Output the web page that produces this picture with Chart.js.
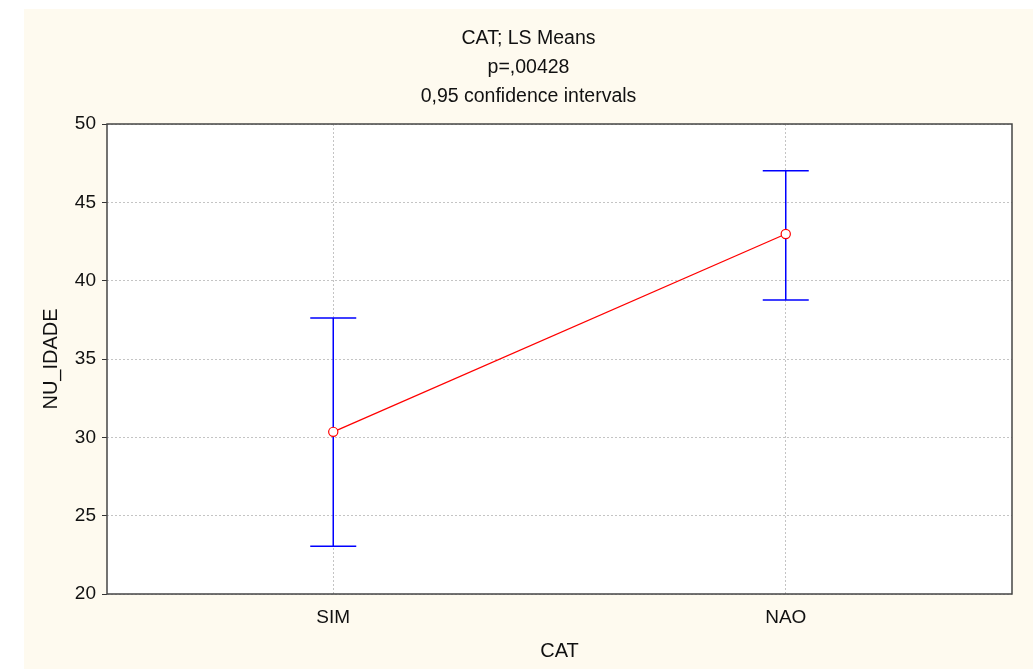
<!DOCTYPE html>
<html>
<head>
<meta charset="utf-8">
<script src="https://cdn.jsdelivr.net/npm/chart.js@4"></script>
<style>
  html, body { margin: 0; padding: 0; background: #ffffff; }
  #frame {
    position: absolute; left: 24px; top: 9px;
    width: 1009px; height: 660px;
    background: #fefaef;
  }
</style>
</head>
<body>
<div id="frame"><canvas id="myChart" width="1009" height="660"></canvas></div>
<script>
// chart values
const categories = ["SIM", "NAO"];
const means = [30.35, 42.98];
const lowerCI = [23.05, 38.77];
const upperCI = [37.62, 47.02];
const titleLines = ["CAT; LS Means", "p=,00428", "0,95 confidence intervals"];
const yMin = 20, yMax = 50, yStep = 5;

const fontName = "'Liberation Sans', Arial, sans-serif";

// white plot area, frame and header text
const plotBox = {
  id: "plotBox",
  beforeDraw(chart) {
    const { ctx, chartArea: a } = chart;
    ctx.save();
    ctx.fillStyle = "#ffffff";
    ctx.fillRect(a.left, a.top, a.right - a.left, a.bottom - a.top);
    ctx.restore();
  },
  afterDraw(chart) {
    const { ctx, chartArea: a } = chart;
    ctx.save();
    ctx.strokeStyle = "#454545";
    ctx.lineWidth = 1.5;
    ctx.strokeRect(a.left, a.top, a.right - a.left, a.bottom - a.top);

    // header, centred on the whole canvas
    ctx.fillStyle = "#111111";
    ctx.font = "19.5px " + fontName;
    ctx.textAlign = "center";
    ctx.textBaseline = "middle";
    titleLines.forEach((line, i) => {
      ctx.fillText(line, chart.width / 2, 30 + i * 29);
    });
    ctx.restore();
  }
};

// confidence interval whiskers, drawn under the line and markers
const errorBars = {
  id: "errorBars",
  beforeDatasetsDraw(chart) {
    const { ctx, scales: { x, y } } = chart;
    ctx.save();
    ctx.strokeStyle = "#0000ff";
    ctx.lineWidth = 1.5;
    categories.forEach((c, i) => {
      const px = x.getPixelForValue(i);
      const top = y.getPixelForValue(upperCI[i]);
      const bot = y.getPixelForValue(lowerCI[i]);
      ctx.beginPath();
      ctx.moveTo(px, top);
      ctx.lineTo(px, bot);
      ctx.moveTo(px - 23, top);
      ctx.lineTo(px + 23, top);
      ctx.moveTo(px - 23, bot);
      ctx.lineTo(px + 23, bot);
      ctx.stroke();
    });
    ctx.restore();
  }
};

const ctx = document.getElementById("myChart").getContext("2d");

const chart = new Chart(ctx, {
  type: "line",
  data: {
    labels: categories,
    datasets: [
      {
        label: "NU_IDADE",
        data: means,
        borderColor: "#ff0000",
        borderWidth: 1.3,
        pointRadius: 4.6,
        pointBorderWidth: 1.2,
        pointBorderColor: "#ff0000",
        pointBackgroundColor: "#ffffff",
        tension: 0
      }
    ]
  },
  options: {
    responsive: false,
    animation: false,
    layout: { padding: { top: 115, right: 21, left: 0, bottom: 0 } },
    plugins: {
      legend: { display: false },
      title: { display: false },
      tooltip: { enabled: false }
    },
    scales: {
      x: {
        type: "category",
        offset: true,
        afterFit(scale) { scale.height = 75; },
        grid: {
          offset: false,
          color: "#c4c4c4",
          lineWidth: 1,
          drawTicks: false
        },
        border: { display: false, dash: [2, 2] },
        ticks: {
          color: "#111111",
          padding: 12,
          font: { family: fontName, size: 19 }
        },
        title: {
          display: true,
          text: "CAT",
          color: "#111111",
          font: { family: fontName, size: 20 },
          padding: { top: 0, bottom: 6 }
        }
      },
      y: {
        min: yMin,
        max: yMax,
        afterFit(scale) { scale.width = 83; },
        grid: {
          color: "#c4c4c4",
          lineWidth: 1,
          tickLength: 5,
          tickColor: "#333333",
          tickBorderDash: [1, 0]
        },
        border: { display: false, dash: [2, 2] },
        ticks: {
          stepSize: yStep,
          color: "#111111",
          padding: 6,
          font: { family: fontName, size: 19 }
        },
        title: {
          display: true,
          text: "NU_IDADE",
          color: "#111111",
          font: { family: fontName, size: 20 },
          padding: { top: 15, bottom: 0 }
        }
      }
    }
  },
  plugins: [plotBox, errorBars]
});
</script>
</body>
</html>
